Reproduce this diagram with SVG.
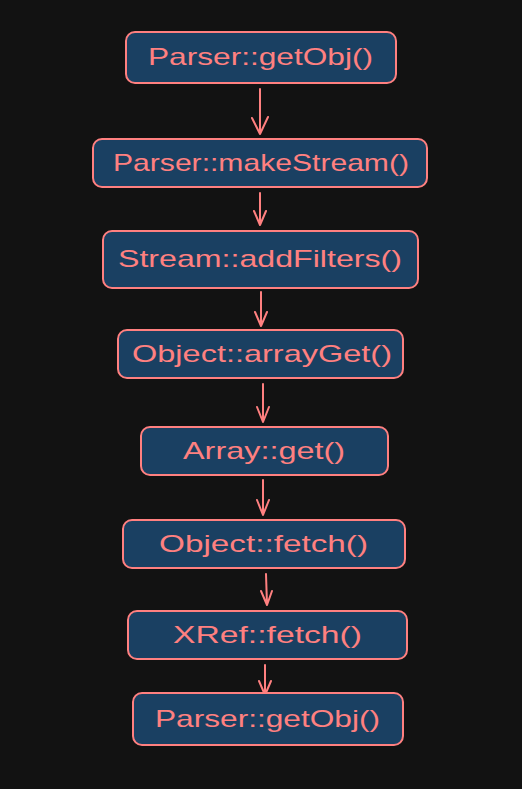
<svg xmlns="http://www.w3.org/2000/svg" width="522" height="789" viewBox="0 0 522 789">
<defs>
<style>
.box{fill:#1a4062;stroke:#ff8080;stroke-width:2}
.lbl{fill:#ff8080;font-family:"Liberation Sans",Arial,sans-serif;font-size:24px;text-anchor:middle}
.con path{stroke:#ff8080;stroke-width:2;fill:none;stroke-linecap:round;stroke-linejoin:round}
</style>
</defs>
<rect width="522" height="789" fill="#121212"/>
<g id="connectors" class="con">
<path d="M260 89 L260 134 M252 118 L260 134 L268 117"/>
<path d="M260 193 L260 225 M254 211 L260 225 L266 211"/>
<path d="M261 292 L261 326 M255 312 L261 326 L267 312"/>
<path d="M263 384 L263 422 M257 407 L263 422 L269 407"/>
<path d="M263 480 L263 515 M257 500 L263 515 L269 500"/>
<path d="M266 574 L267 605 M261 591 L267 605 L272 591"/>
<path d="M265 665 L265 695 M259 681 L265 695 L271 681"/>
</g>
<g id="n1"><rect class="box" x="126" y="32" width="270" height="51" rx="9"/><text class="lbl" x="260.5" y="65" textLength="225" lengthAdjust="spacingAndGlyphs">Parser::getObj()</text></g>
<g id="n2"><rect class="box" x="93" y="139" width="334" height="48" rx="9"/><text class="lbl" x="261" y="170.5" textLength="296" lengthAdjust="spacingAndGlyphs">Parser::makeStream()</text></g>
<g id="n3"><rect class="box" x="103" y="231" width="315" height="57" rx="9"/><text class="lbl" x="260" y="267" textLength="284" lengthAdjust="spacingAndGlyphs">Stream::addFilters()</text></g>
<g id="n4"><rect class="box" x="118" y="330" width="285" height="48" rx="9"/><text class="lbl" x="262" y="362" textLength="260" lengthAdjust="spacingAndGlyphs">Object::arrayGet()</text></g>
<g id="n5"><rect class="box" x="141" y="427" width="247" height="48" rx="9"/><text class="lbl" x="264" y="458.5" textLength="162" lengthAdjust="spacingAndGlyphs">Array::get()</text></g>
<g id="n6"><rect class="box" x="123" y="520" width="282" height="48" rx="9"/><text class="lbl" x="263.5" y="552" textLength="209" lengthAdjust="spacingAndGlyphs">Object::fetch()</text></g>
<g id="n7"><rect class="box" x="128" y="611" width="279" height="48" rx="9"/><text class="lbl" x="267.5" y="642.5" textLength="189" lengthAdjust="spacingAndGlyphs">XRef::fetch()</text></g>
<g id="n8"><rect class="box" x="133" y="693" width="270" height="52" rx="9"/><text class="lbl" x="267.5" y="727" textLength="225" lengthAdjust="spacingAndGlyphs">Parser::getObj()</text></g>
</svg>
